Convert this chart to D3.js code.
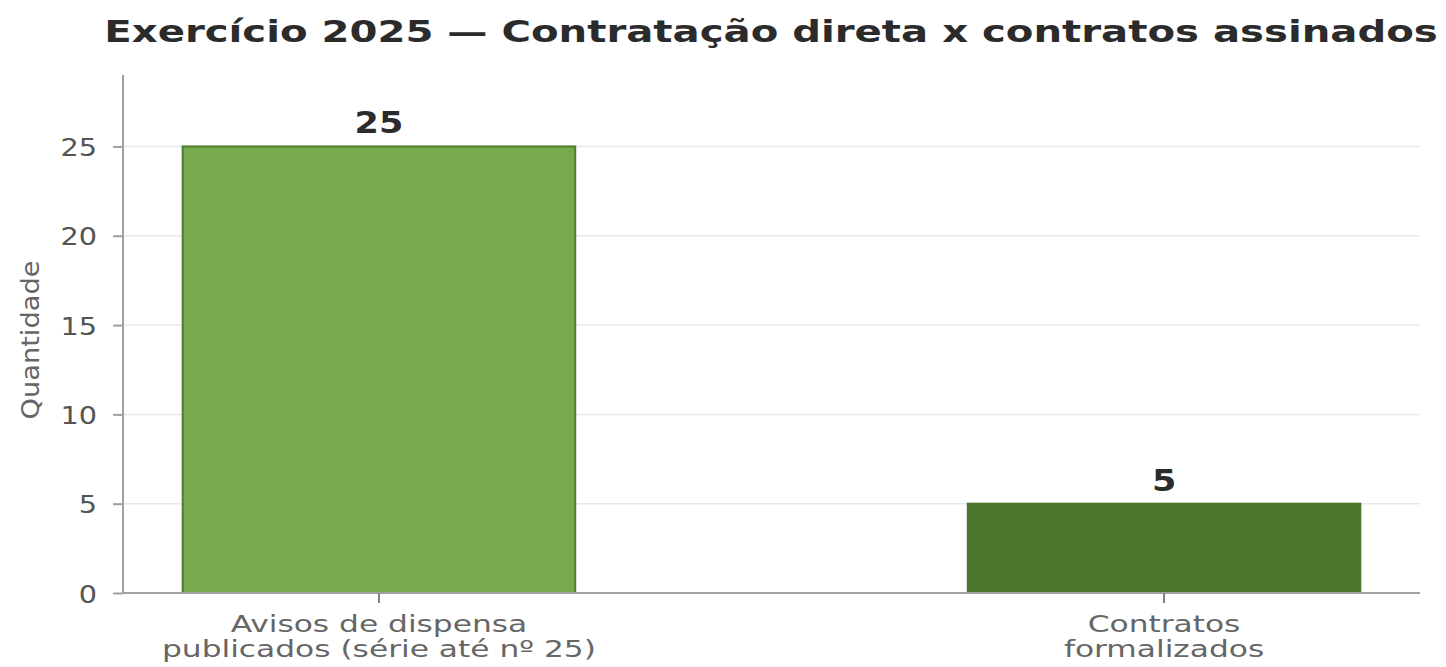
<!DOCTYPE html>
<html><head><meta charset="utf-8">
<script src="https://cdn.jsdelivr.net/npm/d3@7"></script>
<style>body{margin:0;background:#fff;} svg{display:block;}</style>
</head><body><svg id="c" width="1446" height="667"></svg>
<script>
const categories = ["Avisos de dispensa\npublicados (série até nº 25)", "Contratos\nformalizados"];
const values = [25, 5];
const colors = ["#78a94f", "#4c772c"];
const strokes = ["#4e7e2d", "#4c772c"];
const yTicks = [0, 5, 10, 15, 20, 25];
const titleText = "Exercício 2025 — Contratação direta x contratos assinados";
const yLabel = "Quantidade";

(function () {
const svg = d3.select("#c");
const mLeft = 123, mRight = 1420, mTop = 75, mBottom = 593;
const x = d3.scaleBand().domain(categories).range([mLeft, mRight]).paddingInner(0.5).paddingOuter(0.076);
const y = d3.scaleLinear().domain([0, 29]).range([mBottom, mTop]);
const font = "DejaVu Sans, sans-serif";

// grid
svg.append("g").selectAll("line").data(yTicks).join("line")
  .attr("x1", mLeft).attr("x2", mRight)
  .attr("y1", d => y(d)).attr("y2", d => y(d))
  .attr("stroke", "#e8e8e8").attr("stroke-width", 1.5);

// bars
svg.append("g").selectAll("rect").data(values).join("rect")
  .attr("x", (d, i) => x(categories[i]))
  .attr("width", x.bandwidth())
  .attr("y", d => y(d))
  .attr("height", d => y(0) - y(d))
  .attr("fill", (d, i) => colors[i])
  .attr("stroke", (d, i) => strokes[i]).attr("stroke-width", 2);

// value labels
svg.append("g").selectAll("text").data(values).join("text")
  .attr("transform", (d, i) => `translate(${x(categories[i]) + x.bandwidth() / 2},${y(d) - 13}) scale(1.13,1)`)
  .attr("text-anchor", "middle")
  .attr("font-family", font).attr("font-weight", "bold").attr("font-size", 31)
  .attr("fill", "#2b2b2b").text(d => d);

// y axis
const yAxis = d3.axisLeft(y).tickValues(yTicks).tickSize(10).tickFormat("");
const gy = svg.append("g").attr("transform", `translate(${mLeft},0)`).call(yAxis);
gy.select(".domain").attr("stroke", "#a0a0a0").attr("stroke-width", 2).attr("d", `M0,${mTop}V${mBottom}`);
gy.selectAll(".tick line").attr("stroke", "#a0a0a0").attr("stroke-width", 2);
gy.selectAll(".tick").append("text")
  .attr("transform", "translate(-26,0) scale(1.15,1)")
  .attr("dy", "0.36em").attr("text-anchor", "end")
  .attr("font-family", font).attr("font-size", 25).attr("fill", "#555")
  .text(d => d);

// x axis
const xAxis = d3.axisBottom(x).tickSize(10).tickFormat("");
const gx = svg.append("g").attr("transform", `translate(0,${mBottom})`).call(xAxis);
gx.select(".domain").attr("stroke", "#a0a0a0").attr("stroke-width", 2).attr("d", `M${mLeft},0H${mRight}`);
gx.selectAll(".tick line").attr("stroke", "#808080").attr("stroke-width", 2);
gx.selectAll(".tick").each(function(d) {
  d.split("\n").forEach((line, i) => {
    d3.select(this).append("text")
      .attr("transform", `translate(0,${39 + i * 25}) scale(1.36,1)`)
      .attr("text-anchor", "middle").attr("font-family", font).attr("font-size", 23).attr("fill", "#666")
      .text(line);
  });
});

// y label
svg.append("text")
  .attr("transform", `translate(39,340) rotate(-90) scale(1.24,1.1)`)
  .attr("text-anchor", "middle").attr("font-family", font).attr("font-size", 22).attr("fill", "#666")
  .text(yLabel);

// title
svg.append("text")
  .attr("transform", "translate(771,42) scale(1.34,1)")
  .attr("text-anchor", "middle")
  .attr("font-family", font).attr("font-weight", "bold").attr("font-size", 30).attr("fill", "#2b2b2b")
  .text(titleText);
})();
</script></body></html>
